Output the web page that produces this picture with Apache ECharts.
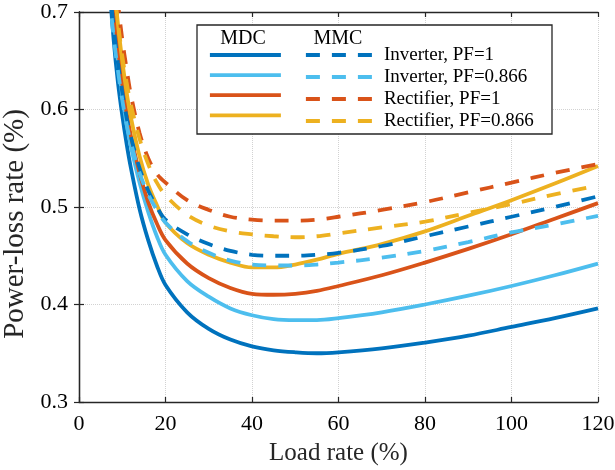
<!DOCTYPE html>
<html>
<head>
<meta charset="utf-8">
<script src="https://cdn.jsdelivr.net/npm/echarts@6/dist/echarts.min.js"></script>
<style>
  html, body { margin: 0; padding: 0; background: #fff; }
  #main { width: 615px; height: 470px; }
</style>
</head>
<body>
<div id="main"></div>
<script>
var loadRate = [7, 8, 9, 10, 11, 12, 14, 16, 18, 20, 25, 30, 35, 40, 45, 50, 55, 60, 70, 80, 90, 100, 110, 120];

// MDC (solid)
var mdcInvPF1 = [0.73, 0.672, 0.628, 0.594, 0.565, 0.54, 0.498, 0.466, 0.44, 0.42, 0.392, 0.375, 0.364, 0.357, 0.353, 0.351, 0.350, 0.351, 0.355, 0.361, 0.368, 0.377, 0.386, 0.396];
var mdcInvPF0866 = [0.75, 0.695, 0.65, 0.614, 0.585, 0.562, 0.525, 0.495, 0.47, 0.451, 0.424, 0.408, 0.396, 0.389, 0.385, 0.384, 0.384, 0.386, 0.392, 0.400, 0.409, 0.419, 0.43, 0.442];
var mdcRecPF1 = [0.77, 0.71, 0.665, 0.627, 0.597, 0.573, 0.535, 0.505, 0.483, 0.466, 0.442, 0.427, 0.417, 0.411, 0.41, 0.411, 0.414, 0.419, 0.43, 0.443, 0.457, 0.472, 0.488, 0.504];
var mdcRecPF0866 = [0.8, 0.735, 0.688, 0.65, 0.618, 0.592, 0.552, 0.523, 0.502, 0.484, 0.463, 0.451, 0.443, 0.438, 0.438, 0.441, 0.446, 0.452, 0.462, 0.475, 0.491, 0.507, 0.524, 0.542];

// MMC (dashed)
var mmcInvPF1 = [0.73, 0.685, 0.648, 0.618, 0.592, 0.572, 0.54, 0.517, 0.5, 0.487, 0.472, 0.462, 0.455, 0.451, 0.45, 0.45, 0.451, 0.453, 0.46, 0.47, 0.48, 0.49, 0.5, 0.511];
var mmcInvPF0866 = [0.72, 0.675, 0.64, 0.61, 0.585, 0.566, 0.535, 0.513, 0.497, 0.484, 0.465, 0.453, 0.445, 0.441, 0.44, 0.44, 0.441, 0.443, 0.448, 0.455, 0.464, 0.474, 0.482, 0.491];
var mmcRecPF1 = [0.82, 0.755, 0.71, 0.672, 0.642, 0.615, 0.576, 0.55, 0.534, 0.525, 0.507, 0.497, 0.49, 0.487, 0.486, 0.486, 0.487, 0.49, 0.497, 0.505, 0.515, 0.525, 0.535, 0.544];
var mmcRecPF0866 = [0.79, 0.73, 0.69, 0.655, 0.628, 0.605, 0.57, 0.544, 0.525, 0.512, 0.492, 0.481, 0.475, 0.472, 0.47, 0.469, 0.47, 0.473, 0.479, 0.485, 0.494, 0.503, 0.513, 0.522];

var caseNames = ['Inverter, PF=1', 'Inverter, PF=0.866', 'Rectifier, PF=1', 'Rectifier, PF=0.866'];
var colors = ['#0072BD', '#4DBEEE', '#D95319', '#EDB120'];

var xTicks = { min: 0, max: 120, interval: 20 };
var yTicks = { min: 0.3, max: 0.7, interval: 0.1 };

var font = '"Liberation Serif", "Times New Roman", serif';
var ink = '#262626';

function pairs(vals) {
    return loadRate.map(function (x, i) { return [x, vals[i]]; });
}

function makeSeries(prefix, vals, idx, dashed) {
    return {
        name: prefix + caseNames[idx],
        type: 'line',
        data: pairs(vals),
        smooth: 0.35,
        symbol: 'none',
        clip: true,
        lineStyle: {
            color: colors[idx],
            width: 3.8,
            type: dashed ? [14, 12] : 'solid'
        },
        itemStyle: { color: colors[idx] },
        z: dashed ? 3 : 2
    };
}

var mdc = [mdcInvPF1, mdcInvPF0866, mdcRecPF1, mdcRecPF0866];
var mmc = [mmcInvPF1, mmcInvPF0866, mmcRecPF1, mmcRecPF0866];

var series = [];
mdc.forEach(function (v, i) { series.push(makeSeries('MDC ', v, i, false)); });
mmc.forEach(function (v, i) { series.push(makeSeries('MMC ', v, i, true)); });

var chartDom = document.getElementById('main');
var myChart = echarts.init(chartDom, null, { renderer: 'canvas' });
var option;

var axisBase = {
    type: 'value',
    axisLine: { show: true, lineStyle: { color: ink, width: 1.3 } },
    axisTick: { show: true, inside: true, length: 5, lineStyle: { color: ink, width: 1.2 } }
};

var legendBase = {
    orient: 'vertical',
    top: 45.5,
    padding: 0,
    itemHeight: 19,
    itemGap: 3,
    selectedMode: false,
    itemStyle: { opacity: 0, borderWidth: 0 },
    lineStyle: { width: 3.8 }
};

option = {
    backgroundColor: '#fff',
    animation: false,
    textStyle: { fontFamily: font },
    grid: { left: 79, right: 17, top: 12, bottom: 68, outerBoundsMode: 'none' },
    xAxis: [
        Object.assign({}, axisBase, xTicks, {
            position: 'bottom',
            name: 'Load rate (%)',
            nameLocation: 'middle',
            nameGap: 39,
            nameTextStyle: { fontFamily: font, fontSize: 25, color: ink },
            axisLabel: { fontFamily: font, fontSize: 22, color: '#000', margin: 11 },
            splitLine: { show: true, lineStyle: { color: '#d2d2d2', type: 'dotted', width: 1 } }
        }),
        Object.assign({}, axisBase, xTicks, {
            position: 'top',
            axisLabel: { show: false },
            splitLine: { show: false }
        })
    ],
    yAxis: [
        Object.assign({}, axisBase, yTicks, {
            position: 'left',
            name: 'Power-loss rate (%)',
            nameLocation: 'middle',
            nameGap: 43,
            // pushed a little below the axis centre, as in the original
            nameTextStyle: { fontFamily: font, fontSize: 29, color: ink, padding: [0, 34, 0, 0] },
            axisLabel: { fontFamily: font, fontSize: 22, color: '#000', margin: 11,
                formatter: function (v) { return v.toFixed(1); } },
            splitLine: { show: true, lineStyle: { color: '#d2d2d2', type: 'dotted', width: 1 } }
        }),
        Object.assign({}, axisBase, yTicks, {
            position: 'right',
            axisLabel: { show: false },
            splitLine: { show: false }
        })
    ],
    legend: [
        Object.assign({}, legendBase, {
            data: series.slice(0, 4).map(function (s) { return s.name; }),
            left: 208,
            itemWidth: 71,
            formatter: function () { return ''; },
            textStyle: { fontFamily: font, fontSize: 19 }
        }),
        Object.assign({}, legendBase, {
            data: series.slice(4).map(function (s) { return s.name; }),
            left: 304,
            itemWidth: 69,
            formatter: function (name) { return name.replace('MMC ', ''); },
            textStyle: { fontFamily: font, fontSize: 19, color: '#000', padding: [0, 0, 0, 4] }
        })
    ],
    graphic: [
        {
            type: 'rect',
            z: 3,
            shape: { x: 197, y: 25, width: 355, height: 109 },
            style: { fill: '#fff', stroke: ink, lineWidth: 1.3 }
        },
        {
            type: 'text',
            z: 4,
            x: 243, y: 39,
            style: { text: 'MDC', font: '20px ' + font, fill: '#000', align: 'center', verticalAlign: 'middle' }
        },
        {
            type: 'text',
            z: 4,
            x: 338, y: 39,
            style: { text: 'MMC', font: '20px ' + font, fill: '#000', align: 'center', verticalAlign: 'middle' }
        }
    ],
    series: series
};

option && myChart.setOption(option);
</script>
</body>
</html>
